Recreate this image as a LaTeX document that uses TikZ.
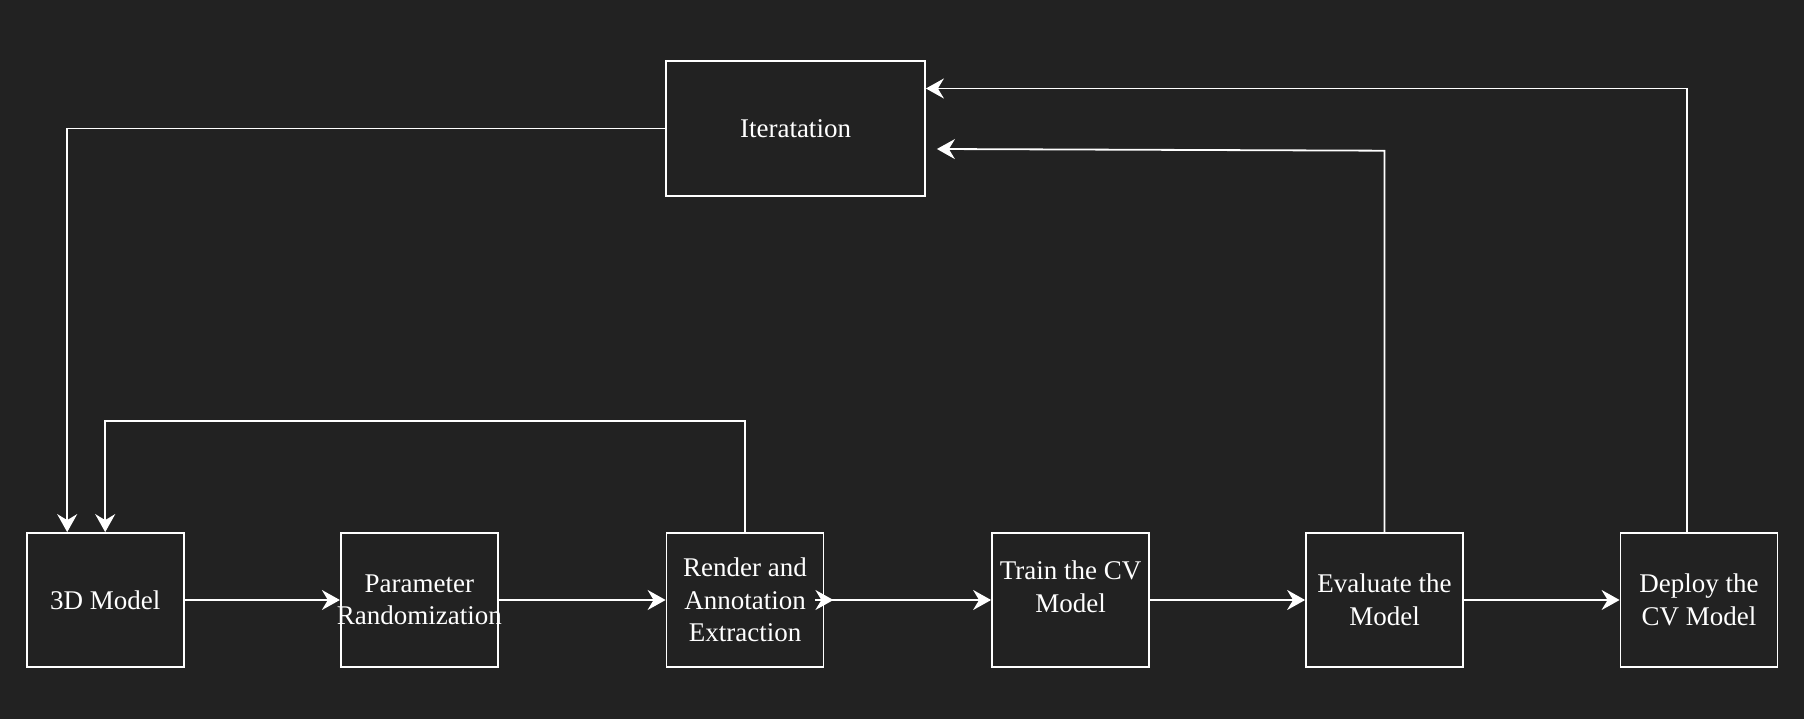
\documentclass[tikz,border=0pt]{standalone}
\usepackage{fontspec}
\setmainfont{Liberation Serif}
\usetikzlibrary{arrows.meta,calc}
\definecolor{bg}{HTML}{222222}
\tikzset{
  txt/.style={text=white, align=center, font=\fontsize{27}{32.5}\selectfont, inner sep=0pt},
  boxnode/.style={draw=white, line width=1.8pt, minimum width=157pt, minimum height=134pt,
    inner sep=0pt, txt},
  arr/.style={draw=white, line width=1.8pt, -{Stealth[length=18pt,width=20pt,inset=6pt]}},
  plain/.style={draw=white, line width=1.8pt}
}
\begin{document}
\begin{tikzpicture}[x=1pt,y=-1pt]
\fill[bg] (0,0) rectangle (1804,719);
\useasboundingbox (0,0) rectangle (1804,719);

\node[boxnode, minimum width=259pt, minimum height=135pt] (iter) at (795.5,128.5) {Iteratation};

\node[boxnode] (m3d) at (105.2,600) {3D Model};
\node[boxnode, label={[txt]center:Parameter\\Randomization}] (param) at (419.3,600) {};
\node[boxnode] (render) at (745,600) {Render and\\Annotation\\Extraction};
\node[boxnode, label={[txt, yshift=13pt]center:Train the CV\\Model}] (train) at (1070.5,600) {};
\node[boxnode] (eval) at (1384.5,600) {Evaluate the\\Model};
\node[boxnode] (deploy) at (1699,600) {Deploy the\\CV Model};

\draw[arr] (m3d.east) -- (param.west);
\draw[arr] (param.east) -- (render.west);
\draw[arr] (render.east) -- (train.west);
\draw[arr] ([xshift=-9pt]render.east) -- ([xshift=9pt]render.east);
\draw[arr] (train.east) -- (eval.west);
\draw[arr] (eval.east) -- (deploy.west);

\coordinate (loopy) at (745,421);
\draw[arr] (render.north) -- (loopy) -| (m3d.north);
\draw[arr] (iter.west) -| ([xshift=-38pt]m3d.north);

\coordinate (evc) at (1384.5,150.7);
\draw[arr] (eval.north) -- (evc) -- ([xshift=11pt,yshift=-20.5pt]iter.east);
\draw[arr] ([xshift=-12pt]deploy.north) |- ([yshift=40pt]iter.east);
\end{tikzpicture}
\end{document}
